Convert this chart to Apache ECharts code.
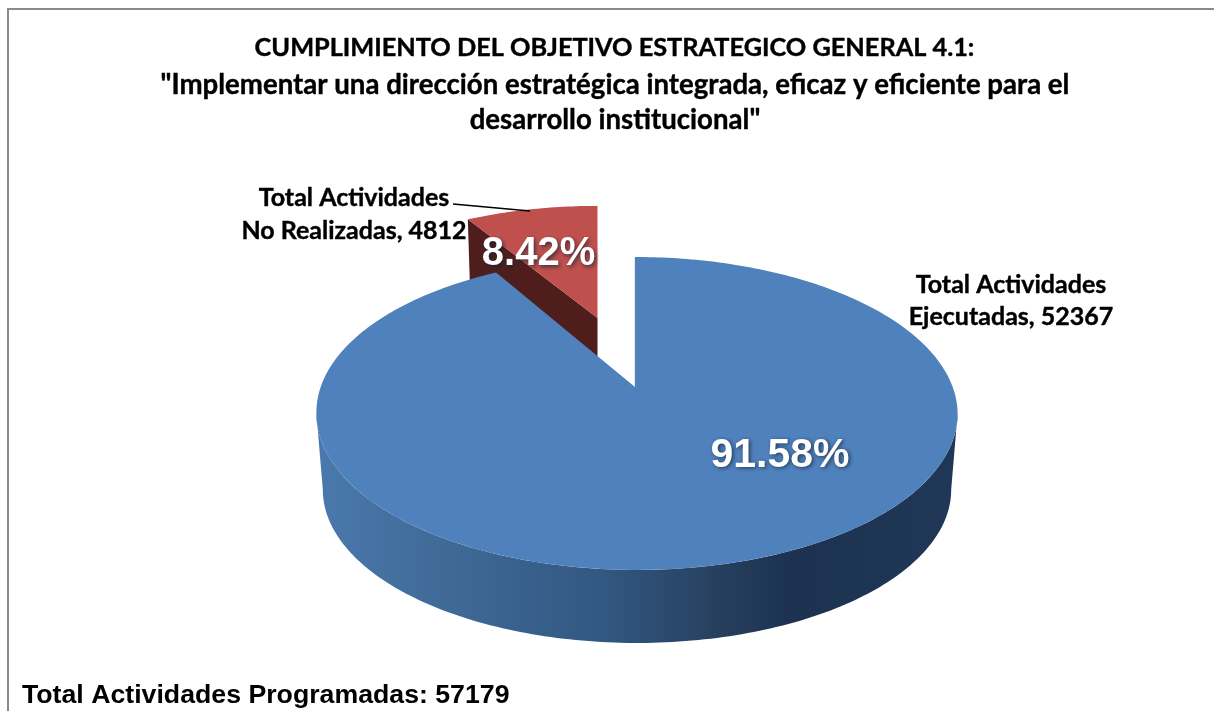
<!DOCTYPE html>
<html><head><meta charset="utf-8">
<style>html,body{margin:0;padding:0;background:#fff;overflow:hidden}#c{width:1214px;height:711px}</style>
<script src="https://cdn.jsdelivr.net/npm/echarts@6/dist/echarts.min.js"></script>
</head><body><div id="c"></div>
<script>
const sliceNames = ['Total Actividades\nEjecutadas', 'Total Actividades\nNo Realizadas'];
const sliceValues = [52367, 4812];
const totalProgrammed = 57179;
const titleLines = ['CUMPLIMIENTO DEL OBJETIVO ESTRATEGICO GENERAL 4.1:',
  '"Implementar una dirección estratégica integrada, eficaz y eficiente para el',
  'desarrollo institucional"'];
const footerLabel = 'Total Actividades Programadas: ';

// 3D pie projection settings
const apexX = 635, apexY = 387, radiusX = 316, radiusY = 152, persp = 0.169;
const depth = 76.7, bottomScale = 0.98, rimDrift = 2;
const explodeScreenX = -37.5, explodeDepth = -0.492;

function project(x, y) {
  const w = 1 - persp * y;
  return [radiusX * x / w, radiusY * y / w];
}
function rimPoint(deg, exploded, lower) {
  const a = deg * Math.PI / 180;
  const x = Math.sin(a), y = -Math.cos(a) + (exploded ? explodeDepth : 0);
  const p = project(x, y);
  const s = lower ? bottomScale : 1;
  const drift = exploded ? explodeScreenX : rimDrift * Math.min(1, (p[1] + 130) / 156);
  return [apexX + drift + p[0] * s, apexY + (lower ? depth : 0) + p[1] * s];
}
function arc(from, to, exploded, lower) {
  const pts = [], n = Math.max(2, Math.ceil(Math.abs(to - from)));
  for (let i = 0; i <= n; i++) pts.push(rimPoint(from + (to - from) * i / n, exploded, lower));
  return pts;
}
function apexPoint(exploded, lower) {
  const p = project(0, exploded ? explodeDepth : 0);
  const s = lower ? bottomScale : 1;
  return [apexX + (exploded ? explodeScreenX : 0) + p[0] * s, apexY + (lower ? depth : 0) + p[1] * s];
}
const total = sliceValues[0] + sliceValues[1];

function renderPie(params, api) {
  const sweep = api.value(0) / total * 360;
  const exploded = api.value(1) === 1;
  const children = [];
  const poly = (points, fill, z2) => ({
    type: 'polygon', z2: z2, shape: { points: points }, style: { fill: fill }
  });
  if (exploded) {
    // slice occupies the arc that the large slice leaves free, just before 12 o'clock
    const start = -sweep, end = 0;
    children.push(poly([rimPoint(start, true, false), apexPoint(true, false), apexPoint(true, true), rimPoint(start, true, true)], '#4f1e1c', 1));
    children.push(poly(arc(start, end, true, false).concat([apexPoint(true, false)]), '#c0504d', 2));
  } else {
    const sideGrad = new echarts.graphic.LinearGradient(316, 0, 958, 0, [
      { offset: 0, color: '#4a79ae' }, { offset: 0.12, color: '#44709f' },
      { offset: 0.45, color: '#325781' }, { offset: 0.62, color: '#27405f' },
      { offset: 0.74, color: '#1c3250' }, { offset: 1, color: '#203757' }
    ], true);
    // front wall between the two silhouette angles of the projected ellipse
    const edge = 180 - Math.acos(persp) * 180 / Math.PI;
    const side = arc(edge, 360 - edge, false, false).concat(arc(360 - edge, edge, false, true));
    children.push(poly(side, sideGrad, 3));
    // edge-on cut face at 12 o'clock
    children.push({ type: 'line', z2: 3, shape: { x1: apexX + 0.5, y1: rimPoint(0, false, false)[1], x2: apexX + 0.5, y2: apexY },
      style: { stroke: '#1f3a5c', lineWidth: 1.2 } });
    children.push(poly(arc(0, sweep, false, false).concat([apexPoint(false, false)]), '#4f81bd', 4));
  }
  return { type: 'group', children: children };
}

const pctShadow = { textShadowColor: 'rgba(20,30,50,0.75)', textShadowBlur: 4, textShadowOffsetX: 1.5, textShadowOffsetY: 1.5 };
const fmtPct = v => (v / total * 100).toFixed(2) + '%';
const catFont = 'Lato, Carlito, sans-serif';
const armFont = '"Liberation Sans", Arial, sans-serif';
const embolden = { textBorderColor: '#000', textBorderWidth: 0.4 };
const titleStyle = size => Object.assign({ fontFamily: catFont, fontWeight: 'bold', fontSize: size, color: '#000' }, embolden);

const chart = echarts.init(document.getElementById('c'), null, { renderer: 'canvas' });
chart.setOption({
  animation: false,
  backgroundColor: '#fff',
  title: [
    { text: titleLines[0], left: 609.5, top: 30, textAlign: 'center', textStyle: titleStyle(25.3) },
    { text: titleLines[1], left: 610, top: 66, textAlign: 'center', textStyle: titleStyle(27.6) },
    { text: titleLines[2], left: 610, top: 101, textAlign: 'center', textStyle: titleStyle(27.6) },
    { text: footerLabel + totalProgrammed, left: 17, top: 677,
      textStyle: { fontFamily: armFont, fontWeight: 'bold', fontSize: 26.7, color: '#000' } },
    { text: sliceNames[1] + ', ' + sliceValues[1], left: 349, top: 176, textAlign: 'center',
      textStyle: Object.assign({ fontFamily: catFont, fontWeight: 'bold', fontSize: 25, lineHeight: 33, color: '#000' }, embolden) },
    { text: sliceNames[0] + ', ' + sliceValues[0], left: 1006, top: 264, textAlign: 'center',
      textStyle: Object.assign({ fontFamily: catFont, fontWeight: 'bold', fontSize: 25, lineHeight: 32, color: '#000' }, embolden) },
    { text: fmtPct(sliceValues[0]), left: 775, top: 430, textAlign: 'center',
      textStyle: Object.assign({ fontFamily: armFont, fontWeight: 'bold', fontSize: 41, color: '#fff' }, pctShadow) },
    { text: fmtPct(sliceValues[1]), left: 533.5, top: 229, textAlign: 'center',
      textStyle: Object.assign({ fontFamily: armFont, fontWeight: 'bold', fontSize: 40, color: '#fff' }, pctShadow) }
  ],
  graphic: [
    { type: 'polyline', silent: true, z: 0, shape: { points: [[8, 720], [8, 9], [1225, 9]] }, style: { stroke: '#8a8a8a', fill: null, lineWidth: 2 } },
    { type: 'line', silent: true, z: 10, shape: { x1: 453, y1: 204, x2: 530, y2: 211 }, style: { stroke: '#000', lineWidth: 1.5 } }
  ],
  series: [{
    type: 'custom', coordinateSystem: 'none', silent: true, clip: false, z: 2,
    renderItem: renderPie,
    // [value, exploded]; the small slice is painted first because it sits behind the large one
    data: [[sliceValues[1], 1], [sliceValues[0], 0]]
  }]
});
</script></body></html>
